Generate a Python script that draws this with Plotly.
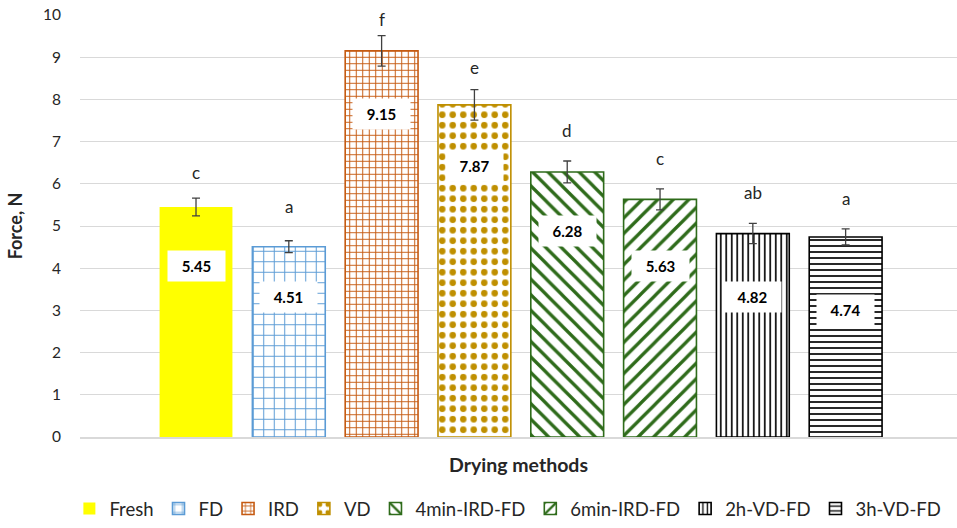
import plotly.graph_objects as go

categories = ["Fresh", "FD", "IRD", "VD", "4min-IRD-FD", "6min-IRD-FD", "2h-VD-FD", "3h-VD-FD"]
force = [5.45, 4.51, 9.15, 7.87, 6.28, 5.63, 4.82, 4.74]
errors = [0.21, 0.14, 0.36, 0.36, 0.26, 0.25, 0.24, 0.19]
letters = ["c", "a", "f", "e", "d", "c", "ab", "a"]

# styles
colors = ["#FFFF00", "#5B9BD5", "#C55A11", "#BF8F00", "#2E6B1A", "#2E6B1A", "#000000", "#000000"]
shapes = ["", "+", "+", "·", "\\", "/", "|", "-"]
psizes = [8, 10.5, 6.5, 10.5, 11, 11, 5.5, 6]
psolid = [0.3, 0.18, 0.28, 0.3, 0.3, 0.3, 0.3, 0.28]
letter_shift = [26, 34, 16, 22, 31, 30, 31, 30]
label_shift = [-59, -50, -63, -61, -59, -67, -63, -73]

FONT = "Lato"
fig = go.Figure()
for i, cat in enumerate(categories):
    if shapes[i] == "":
        marker = dict(color=colors[i], line=dict(width=0))
    else:
        shp = "." if shapes[i] == "·" else shapes[i]
        marker = dict(color="white",
                      line=dict(color=colors[i], width=1.6),
                      pattern=dict(shape=shp, fgcolor=colors[i], fgopacity=1, bgcolor="white",
                                   size=psizes[i], solidity=psolid[i], fillmode="replace"))
    fig.add_trace(go.Bar(
        x=[cat], y=[force[i]], name=cat, width=0.785, marker=marker,
        error_y=dict(type="data", array=[errors[i]], color="#404040", thickness=1.3, width=4),
        hoverinfo="y",
    ))
    fig.add_annotation(x=cat, y=force[i] + errors[i], text=letters[i], showarrow=False,
                       yshift=letter_shift[i], font=dict(family=FONT, size=17, color="#262626"))
    fig.add_annotation(x=cat, y=force[i], text="<b>%.2f</b>" % force[i], showarrow=False,
                       yshift=label_shift[i], bgcolor="white", width=55, height=28,
                       font=dict(family=FONT, size=15, color="black"))

fig.update_layout(
    width=957, height=528,
    margin=dict(l=80, r=0, t=15, b=91, autoexpand=False),
    paper_bgcolor="white", plot_bgcolor="white",
    barmode="overlay",
    showlegend=True,
    legend=dict(orientation="h", xref="container", x=0.0725, xanchor="left",
                yref="container", y=0.0, yanchor="bottom",
                font=dict(family=FONT, size=18.5, color="#262626"),
                itemwidth=30, tracegroupgap=0),
    font=dict(family=FONT, color="#262626"),
)
fig.update_xaxes(
    type="category", range=[-1.25, 8.2], showticklabels=False, showgrid=False,
    showline=True, linecolor="#D9D9D9", linewidth=1.5, ticks="", automargin=False,
    title=dict(text="<b>Drying methods</b>", font=dict(family=FONT, size=19.5, color="#262626"), standoff=21),
)
fig.update_yaxes(
    range=[0, 10], dtick=1, showgrid=True, gridcolor="#D9D9D9", gridwidth=1.3,
    zeroline=False, showline=False, ticks="", ticklabelstandoff=18, automargin=False,
    tickfont=dict(family=FONT, size=15.5, color="#262626"),
    title=dict(text="<b>Force, N</b>", font=dict(family=FONT, size=18, color="#262626"), standoff=15),
)

fig.write_html("out.html", config={"displayModeBar": False},
               post_script="document.body.style.margin='0';")
